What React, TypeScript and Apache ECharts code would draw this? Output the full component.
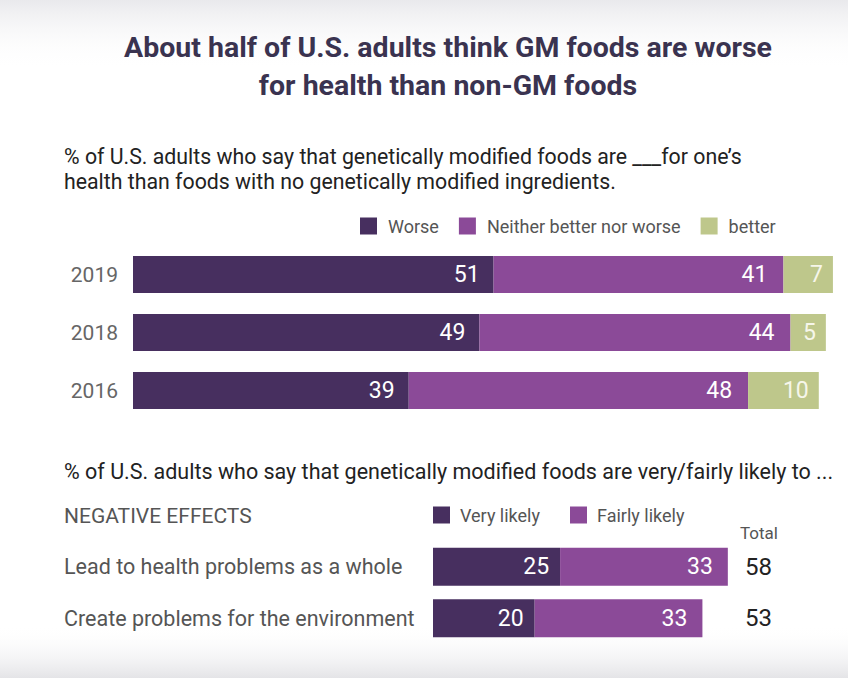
import { useEffect, useRef } from "react";
import * as echarts from "echarts";

const titleLines = [
  "About half of U.S. adults think GM foods are worse",
  "for health than non-GM foods",
];
const subtitleLines = [
  "% of U.S. adults who say that genetically modified foods are ___for one’s",
  "health than foods with no genetically modified ingredients.",
];
const subtitle2 = "% of U.S. adults who say that genetically modified foods are very/fairly likely to ...";
const sectionLabel = "NEGATIVE EFFECTS";
const totalLabel = "Total";

const years = ["2019", "2018", "2016"];
const worse = [51, 49, 39];
const neither = [41, 44, 48];
const better = [7, 5, 10];

const effects = ["Lead to health problems as a whole", "Create problems for the environment"];
const veryLikely = [25, 20];
const fairlyLikely = [33, 33];
const totals = [58, 53];

const DARK = "#472f5f";
const MID = "#8b4a98";
const GREEN = "#bec78b";
const FONT = "Roboto";

export default function App() {
  const ref = useRef<HTMLDivElement>(null);
  useEffect(() => {
    if (!ref.current) return;
    const chart = echarts.init(ref.current, null, { renderer: "svg" });
    const barLabel = (distance: number, color = "#ffffff") => ({
      show: true,
      position: "insideRight" as const,
      distance,
      color,
      fontSize: 23,
      fontFamily: FONT,
    });
    chart.setOption({
      animation: false,
      backgroundColor: "#ffffff",
      textStyle: { fontFamily: FONT },
      graphic: [
        {
          type: "rect",
          z: -10,
          shape: { x: 0, y: 0, width: 848, height: 70 },
          style: {
            fill: new echarts.graphic.LinearGradient(0, 0, 0, 1, [
              { offset: 0, color: "#e9e9ec" },
              { offset: 1, color: "rgba(255,255,255,0)" },
            ]),
          },
        },
        {
          type: "rect",
          z: -10,
          shape: { x: 0, y: 625, width: 848, height: 53 },
          style: {
            fill: new echarts.graphic.LinearGradient(0, 0, 0, 1, [
              { offset: 0, color: "rgba(255,255,255,0)" },
              { offset: 1, color: "#e4e4e7" },
            ]),
          },
        },
        ...titleLines.map((t, i) => ({
          type: "text",
          x: 448,
          y: 47 + i * 38,
          style: {
            text: t,
            fontSize: 28.5,
            fontWeight: "bold",
            fontFamily: FONT,
            fill: "#3a3350",
            align: "center",
            verticalAlign: "middle",
          },
        })),
        ...subtitleLines.map((t, i) => ({
          type: "text",
          x: 64,
          y: 156 + i * 25,
          style: {
            text: t,
            fontSize: 21.3,
            fontFamily: FONT,
            fill: "#222222",
            align: "left",
            verticalAlign: "middle",
          },
        })),
        {
          type: "text",
          x: 64,
          y: 471,
          style: {
            text: subtitle2,
            fontSize: 21.5,
            fontFamily: FONT,
            fill: "#222222",
            align: "left",
            verticalAlign: "middle",
          },
        },
        {
          type: "text",
          x: 64,
          y: 516,
          style: {
            text: sectionLabel,
            fontSize: 21,
            fontFamily: FONT,
            fill: "#555555",
            align: "left",
            verticalAlign: "middle",
          },
        },
        {
          type: "text",
          x: 740,
          y: 533,
          style: {
            text: totalLabel,
            fontSize: 17,
            fontFamily: FONT,
            fill: "#555555",
            align: "left",
            verticalAlign: "middle",
          },
        },
      ],
      legend: [
        {
          data: ["Worse", "Neither better nor worse", "better"],
          left: 360,
          top: 217,
          icon: "rect",
          itemWidth: 17,
          itemHeight: 17,
          itemGap: 20,
          padding: 0,
          textStyle: { fontSize: 18, color: "#555555", fontFamily: FONT, padding: [0, 0, 0, 6] },
        },
        {
          data: ["Very likely", "Fairly likely"],
          left: 433,
          top: 506,
          icon: "rect",
          itemWidth: 17,
          itemHeight: 17,
          itemGap: 30,
          padding: 0,
          textStyle: { fontSize: 18, color: "#555555", fontFamily: FONT, padding: [0, 0, 0, 5] },
        },
      ],
      grid: [
        { left: 133, top: 245.5, width: 707, height: 174 },
        { left: 433, top: 541, width: 305, height: 103 },
      ],
      xAxis: [
        { type: "value", gridIndex: 0, min: 0, max: 100, show: false },
        { type: "value", gridIndex: 1, min: 0, max: 60, show: false },
      ],
      yAxis: [
        {
          type: "category",
          gridIndex: 0,
          data: years,
          inverse: true,
          axisLine: { show: false },
          axisTick: { show: false },
          axisLabel: { fontSize: 21, color: "#666666", margin: 15, fontFamily: FONT },
        },
        {
          type: "category",
          gridIndex: 1,
          data: effects,
          inverse: true,
          axisLine: { show: false },
          axisTick: { show: false },
          axisLabel: { fontSize: 21.5, color: "#555555", margin: 369, align: "left", fontFamily: FONT },
        },
        {
          type: "category",
          gridIndex: 1,
          position: "right",
          data: effects,
          inverse: true,
          axisLine: { show: false },
          axisTick: { show: false },
          axisLabel: {
            fontSize: 24,
            color: "#222222",
            margin: 7,
            align: "left",
            fontFamily: FONT,
            formatter: (_v: string, i: number) => String(totals[i]),
          },
        },
      ],
      series: [
        {
          name: "Worse",
          type: "bar",
          stack: "top",
          xAxisIndex: 0,
          yAxisIndex: 0,
          barWidth: 37,
          itemStyle: { color: DARK },
          label: barLabel(14),
          data: worse,
        },
        {
          name: "Neither better nor worse",
          type: "bar",
          stack: "top",
          xAxisIndex: 0,
          yAxisIndex: 0,
          barWidth: 37,
          itemStyle: { color: MID },
          label: barLabel(16),
          data: neither,
        },
        {
          name: "better",
          type: "bar",
          stack: "top",
          xAxisIndex: 0,
          yAxisIndex: 0,
          barWidth: 37,
          itemStyle: { color: GREEN },
          label: barLabel(10, "#f6f6ea"),
          data: better,
        },
        {
          name: "Very likely",
          type: "bar",
          stack: "bottom",
          xAxisIndex: 1,
          yAxisIndex: 1,
          barWidth: 38,
          itemStyle: { color: DARK },
          label: barLabel(11),
          data: veryLikely,
        },
        {
          name: "Fairly likely",
          type: "bar",
          stack: "bottom",
          xAxisIndex: 1,
          yAxisIndex: 1,
          barWidth: 38,
          itemStyle: { color: MID },
          label: barLabel(15),
          data: fairlyLikely,
        },
      ],
    });
    return () => chart.dispose();
  }, []);
  return (
    <div
      ref={ref}
      style={{ position: "fixed", left: 0, top: 0, width: 848, height: 678 }}
    />
  );
}
